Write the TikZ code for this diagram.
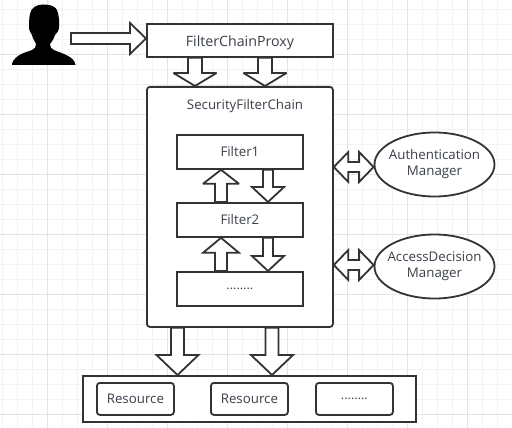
\documentclass[tikz,border=0pt]{standalone}
\usepackage{fontspec}
\setmainfont{Open Sans}
\usetikzlibrary{calc,shapes.geometric}
\definecolor{ink}{HTML}{333333}
\definecolor{txt}{HTML}{3A3F4A}
\definecolor{gridminor}{HTML}{F3F3F3}
\definecolor{gridmajor}{HTML}{E4E4E4}
\tikzset{
  base/.style={draw=ink,line width=1.8pt,fill=white,text=txt,align=center,font=\fontsize{13.3}{16}\selectfont,inner sep=0pt},
  flatbox/.style={base,rectangle,anchor=north west},
  softbox/.style={flatbox,rounded corners=3pt},
  oval/.style={base,ellipse,inner sep=-6pt},
  blk/.style={draw=ink,line width=1.8pt,fill=white,line join=miter,miter limit=3},
}
% start, end, shaft half width, head half width, head length
\newcommand\blockar[5]{%
  \coordinate (hb) at ($(#2)!#5!(#1)$);
  \draw[blk] ($(#1)!#3!90:(#2)$) -- ($(hb)!#3!90:(#2)$) -- ($(hb)!#4!90:(#2)$) -- (#2)
    -- ($(hb)!#4!-90:(#2)$) -- ($(hb)!#3!-90:(#2)$) -- ($(#1)!#3!-90:(#2)$) -- cycle;
}
\newcommand\doublear[5]{%
  \coordinate (ha) at ($(#1)!#5!(#2)$);
  \coordinate (hb) at ($(#2)!#5!(#1)$);
  \draw[blk] (#1) -- ($(ha)!#4!90:(#1)$) -- ($(ha)!#3!90:(#1)$) -- ($(hb)!#3!-90:(#2)$) -- ($(hb)!#4!-90:(#2)$) -- (#2)
    -- ($(hb)!#4!90:(#2)$) -- ($(hb)!#3!90:(#2)$) -- ($(ha)!#3!-90:(#1)$) -- ($(ha)!#4!-90:(#1)$) -- cycle;
}
\begin{document}
\begin{tikzpicture}[x=1pt,y=-1pt]
\useasboundingbox (0,0) rectangle (512,428);
\fill[white] (0,0) rectangle (512,428);
\foreach \k in {0,...,34} \draw[gridminor,line width=0.8pt] ({2+15*\k},0) -- ({2+15*\k},428);
\foreach \k in {0,...,28} \draw[gridminor,line width=0.8pt] (0,{9+15*\k}) -- (512,{9+15*\k});
\foreach \k in {0,...,8} \draw[gridmajor,line width=0.8pt] ({47+60*\k},0) -- ({47+60*\k},428);
\foreach \k in {0,...,7} \draw[gridmajor,line width=0.8pt] (0,{54+60*\k}) -- (512,{54+60*\k});

% person
\fill[black] (43,4.5) .. controls (36,4.5) and (31,8) .. (30,14) .. controls (29,19) and (29,24) .. (29,27)
  .. controls (29,31) and (31,33) .. (32,35) .. controls (33,39) and (35,42) .. (36,44)
  .. controls (36,47) and (35,49) .. (32,50) .. controls (27,52) and (22,53) .. (18,56)
  .. controls (14,59) and (12,62) .. (12,65) -- (75.5,65)
  .. controls (75,61) and (72,58) .. (68,56) .. controls (63,53) and (58,52) .. (54,50)
  .. controls (51,49) and (50,47) .. (50,44) .. controls (52,42) and (54,38) .. (55,35)
  .. controls (57,33) and (59,31) .. (59,27) .. controls (59.5,22) and (59,15) .. (57,10)
  .. controls (55,6) and (50,4.5) .. (43,4.5) -- cycle;

% arrows lying under the boxes
\coordinate (userend) at (71,38.5);
\coordinate (proxyin) at (146,38.5);
\blockar{userend}{proxyin}{5.5pt}{15.5pt}{16pt}

\node[flatbox,minimum width=186pt,minimum height=33pt,font=\fontsize{14.2}{16}\selectfont,text depth=0pt,text height=12pt] (proxy) at (146,23) {FilterChainProxy};
\node[softbox,minimum width=186pt,minimum height=240pt] (chain) at (146,86) {};
\node[text=txt,font=\fontsize{13.3}{16}\selectfont,inner sep=0pt] (chaintitle) at (245,106) {SecurityFilterChain};
\node[flatbox,minimum width=126pt,minimum height=34pt] (f1) at (176,134) {Filter1};
\node[flatbox,minimum width=126pt,minimum height=34pt] (f2) at (176,202) {Filter2};
\node[flatbox,minimum width=126pt,minimum height=34pt,font=\fontsize{12.6}{16}\selectfont] (f3) at (176,271) {........};
\node[oval,minimum width=120pt,minimum height=64pt] (auth) at (434.5,164.5) {Authentication\\Manager};
\node[oval,minimum width=120pt,minimum height=64pt] (access) at (434.5,266.5) {AccessDecision\\Manager};
\node[flatbox,minimum width=333pt,minimum height=46pt] (res) at (82,375) {};
\node[softbox,minimum width=77pt,minimum height=32pt] (r1) at (96,382) {Resource};
\node[softbox,minimum width=77pt,minimum height=32pt] (r2) at (210,382) {Resource};
\node[softbox,minimum width=77pt,minimum height=32pt,font=\fontsize{12.6}{16}\selectfont] (r3) at (315,382) {........};

% proxy to chain
\coordinate (pa) at ($(proxy.south west)+(49,0)$);
\coordinate (pb) at ($(chain.north west)+(49,0)$);
\coordinate (pc) at ($(proxy.south west)+(119,0)$);
\coordinate (pd) at ($(chain.north west)+(119,0)$);
\blockar{pa}{pb}{7pt}{21.5pt}{13pt}
\blockar{pc}{pd}{7pt}{21.5pt}{13pt}

% filters
\coordinate (u1a) at ($(f2.north west)+(45,0)$);
\coordinate (u1b) at ($(f1.south west)+(45,0)$);
\coordinate (d1a) at ($(f1.south west)+(92,0)$);
\coordinate (d1b) at ($(f2.north west)+(92,0)$);
\coordinate (u2a) at ($(f3.north west)+(45,0)$);
\coordinate (u2b) at ($(f2.south west)+(45,0)$);
\coordinate (d2a) at ($(f2.south west)+(92,0)$);
\coordinate (d2b) at ($(f3.north west)+(92,0)$);
\blockar{u1a}{u1b}{6pt}{18pt}{14pt}
\blockar{d1a}{d1b}{5pt}{16pt}{15pt}
\blockar{u2a}{u2b}{6pt}{18pt}{15pt}
\blockar{d2a}{d2b}{5pt}{16pt}{15pt}

% managers
\coordinate (c1) at (chain.east |- 0,167);
\coordinate (a1) at (auth.west |- 0,167);
\coordinate (c2) at (chain.east |- 0,265);
\coordinate (a2) at (access.west |- 0,265);
\doublear{c1}{a1}{5pt}{15pt}{14.5pt}
\doublear{c2}{a2}{5pt}{15pt}{14.5pt}

% chain to resources
\coordinate (ra) at ($(chain.south west)+(31.5,0)$);
\coordinate (rb) at ($(res.north west)+(95.5,0)$);
\coordinate (rc) at ($(chain.south west)+(126,0)$);
\coordinate (rd) at ($(res.north west)+(190,0)$);
\blockar{ra}{rb}{6.5pt}{21pt}{20pt}
\blockar{rc}{rd}{6.5pt}{21pt}{20pt}
\end{tikzpicture}
\end{document}
